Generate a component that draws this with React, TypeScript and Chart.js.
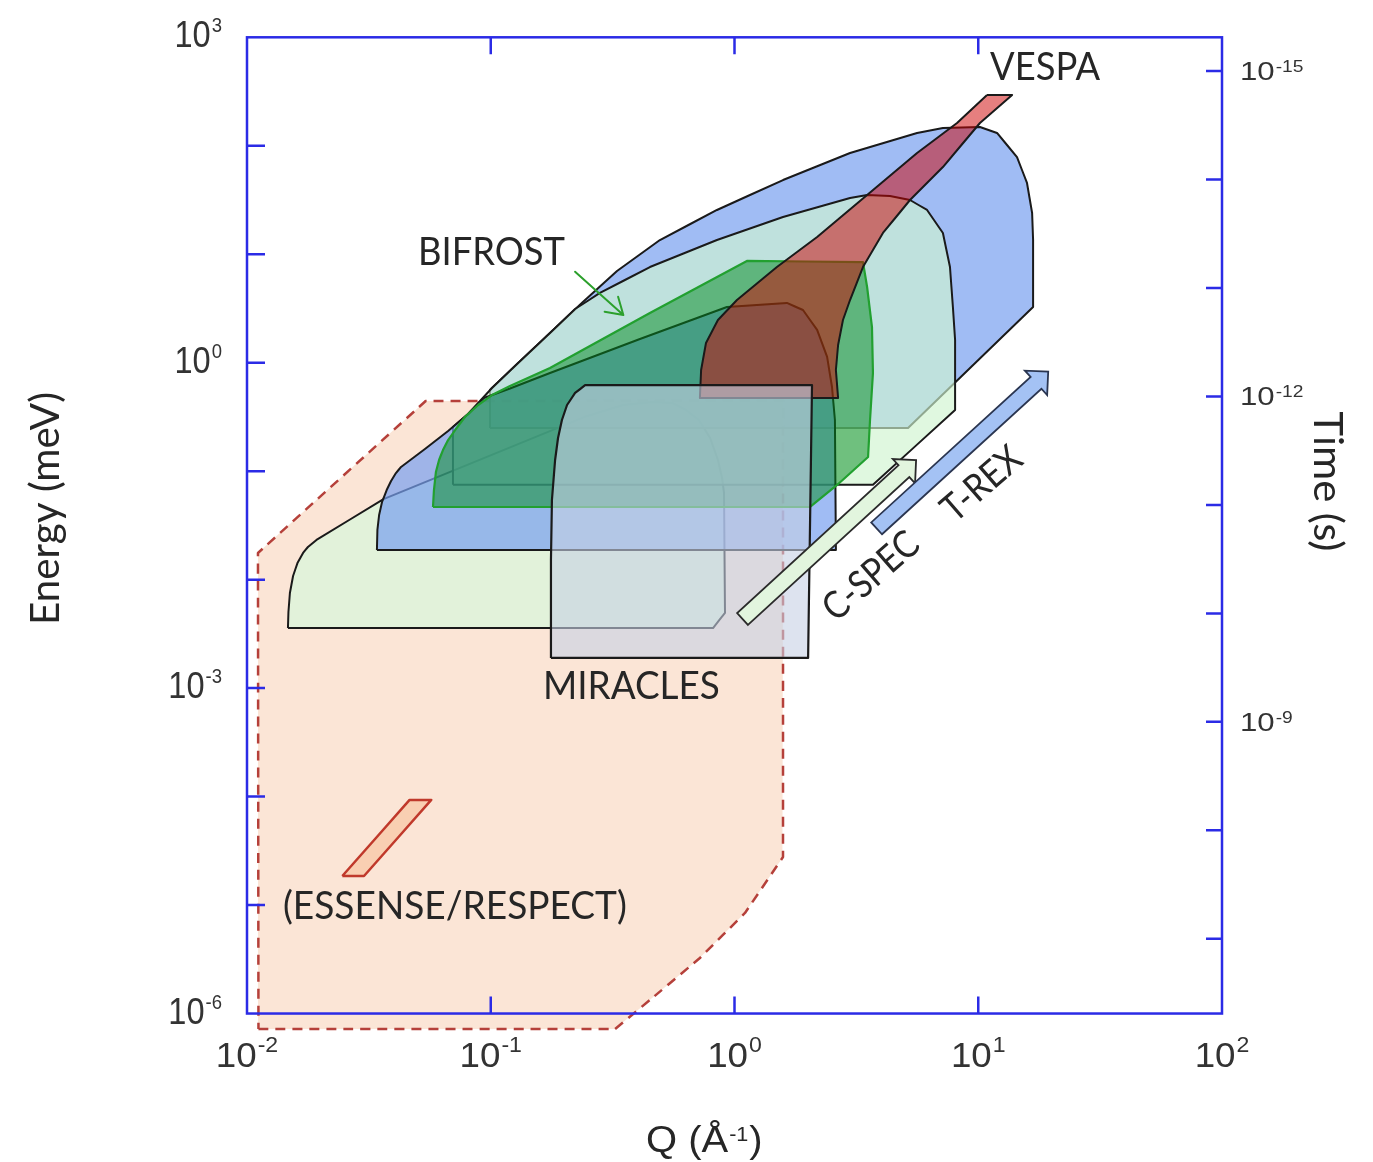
import React, { useEffect, useRef } from "react";
import { Chart, registerables } from "chart.js";

Chart.register(...registerables);

type P = [number, number];

// ---- Data: every vertex is [log10 Q (Å^-1), log10 E (meV)] ----
const essenseRange: P[] = [
  [-1.953, -6.143], [-0.49, -6.143], [-0.347, -5.875], [-0.142, -5.488], [0.043, -5.073],
  [0.199, -4.557], [0.199, -0.353], [-1.267, -0.353], [-1.955, -1.754],
];
const essenseBox: P[] = [[-1.609, -4.732], [-1.52, -4.732], [-1.244, -4.031], [-1.333, -4.031]];
const cspecLow: P[] = [
  [-1.832, -2.446], [-1.83, -2.298], [-1.824, -2.123], [-1.811, -1.966], [-1.793, -1.847],
  [-1.77, -1.754], [-1.75, -1.699], [-1.715, -1.634], [-1.44, -1.257], [-0.617, -0.501],
  [-0.457, -0.39], [-0.334, -0.362], [-0.256, -0.371], [-0.199, -0.436], [-0.146, -0.528],
  [-0.1, -0.694], [-0.068, -0.897], [-0.051, -1.063], [-0.043, -1.201], [-0.039, -2.307],
  [-0.088, -2.446],
];
const trexHigh: P[] = [
  [-1.003, -0.602], [-1.003, -0.252], [-0.995, -0.233], [-0.892, -0.012], [-0.757, 0.274],
  [-0.622, 0.56], [-0.482, 0.846], [-0.306, 1.131], [-0.072, 1.408], [0.199, 1.684],
  [0.474, 1.933], [0.749, 2.118], [0.855, 2.164], [1.007, 2.173], [1.077, 2.118],
  [1.159, 1.896], [1.2, 1.657], [1.221, 1.38], [1.225, 1.131], [1.225, 0.514], [0.712, -0.602],
];
const cspecHigh: P[] = [
  [-1.155, -1.125], [-1.155, -0.593], [-1.093, -0.473], [-0.995, -0.233], [-0.892, -0.012],
  [-0.757, 0.274], [-0.654, 0.495], [-0.552, 0.643], [-0.347, 0.882], [-0.072, 1.131],
  [0.199, 1.343], [0.474, 1.518], [0.544, 1.546], [0.638, 1.537], [0.72, 1.5], [0.79, 1.408],
  [0.855, 1.196], [0.884, 0.882], [0.896, 0.514], [0.905, 0.209], [0.905, -0.436], [0.568, -1.125],
];
const trexLow: P[] = [
  [-1.467, -1.727], [-1.465, -1.542], [-1.458, -1.404], [-1.446, -1.284], [-1.427, -1.174],
  [-1.409, -1.091], [-1.389, -1.017], [-1.368, -0.961], [-1.27, -0.796], [-1.175, -0.63],
  [-1.093, -0.473], [-1.028, -0.325], [-0.921, -0.238], [-0.757, -0.095], [-0.388, 0.219],
  [-0.031, 0.514], [0.215, 0.551], [0.281, 0.486], [0.339, 0.302], [0.38, 0.053],
  [0.4, -0.224], [0.412, -0.528], [0.416, -1.727],
];
const bifrost: P[] = [
  [-1.237, -1.33], [-1.233, -1.174], [-1.225, -1.008], [-1.212, -0.897], [-1.196, -0.805],
  [-1.175, -0.713], [-1.143, -0.611], [-1.106, -0.501], [-1.052, -0.39], [-0.995, -0.298],
  [-0.921, -0.215], [-0.839, -0.132], [-0.757, -0.049], [-0.347, 0.458], [0.051, 0.938],
  [0.527, 0.928], [0.544, 0.698], [0.564, 0.329], [0.568, -0.095], [0.556, -0.528],
  [0.548, -0.869], [0.421, -1.127], [0.31, -1.33],
];
const vespa: P[] = [
  [1.036, 2.468], [0.913, 2.21], [0.749, 1.933], [0.544, 1.546], [0.339, 1.159], [0.174, 0.882],
  [0.01, 0.578], [-0.068, 0.394], [-0.117, 0.182], [-0.137, -0.067], [-0.142, -0.325],
  [0.425, -0.325], [0.416, -0.067], [0.425, 0.163], [0.445, 0.394], [0.474, 0.578],
  [0.527, 0.882], [0.609, 1.196], [0.72, 1.5], [0.855, 1.804], [1.007, 2.21], [1.139, 2.468],
];
const miracles: P[] = [
  [-0.753, -2.722], [-0.753, -1.819], [-0.749, -1.266], [-0.736, -0.897], [-0.724, -0.694],
  [-0.708, -0.528], [-0.687, -0.39], [-0.654, -0.279], [-0.613, -0.206], [0.318, -0.206],
  [0.302, -2.722],
];
// arrows: [tail, tip] as [log10 Q, log10 E]
const cspecArrow: P[] = [[0.033, -2.363], [0.745, -0.897]];
const trexArrow: P[] = [[0.583, -1.527], [1.287, -0.083]];
const bifrostPointer: P[] = [[-0.654, 0.839], [-0.456, 0.44]];

// axes (decade exponents)
const qDecades = [-2, -1, 0, 1, 2];
const energyDecades = [-6, -5, -4, -3, -2, -1, 0, 1, 2, 3];
const energyLabelled = [-6, -3, 0, 3];
const timeDecades = [-15, -14, -13, -12, -11, -10, -9, -8, -7];
const timeLabelled = [-15, -12, -9];

const instrumentLabels = [
  { text: "VESPA", at: [1.274, 2.731], width: 110, angle: 0 },
  { text: "BIFROST", at: [-0.997, 1.025], width: 147, angle: 0 },
  { text: "MIRACLES", at: [-0.423, -2.976], width: 177, angle: 0 },
  { text: "(ESSENSE/RESPECT)", at: [-1.147, -5.004], width: 344, angle: 0 },
  { text: "C-SPEC", at: [0.556, -1.957], width: 114, angle: -41 },
  { text: "T-REX", at: [1.011, -1.109], width: 93, angle: -41 },
];

const AXIS = "#2b2be6";
const TXT = "#262626";
const TICKTXT = "#333333";
const SANS = '"Liberation Sans", Arial, sans-serif';
const LABEL = 'Lato, "Open Sans", sans-serif';

function poly(pts: P[]) {
  const out = pts.map(([q, e]) => ({ x: 10 ** q, y: 10 ** e }));
  out.push({ ...out[0] });
  return out;
}

function fitText(ctx: any, text: string, x: number, y: number, width: number, size: number, family: string, color: string, angleDeg = 0) {
  ctx.save();
  ctx.font = `${size}px ${family}`;
  const m = ctx.measureText(text).width;
  ctx.translate(x, y);
  ctx.rotate((angleDeg * Math.PI) / 180);
  ctx.scale(width / m, 1);
  ctx.fillStyle = color;
  ctx.textAlign = "center";
  ctx.textBaseline = "alphabetic";
  ctx.fillText(text, 0, size * 0.36);
  ctx.restore();
}

function drawPow(ctx: any, exp: string, x: number, baseline: number, o: any) {
  const baseFont = `${o.base}px ${SANS}`;
  const supFont = `${o.sup}px ${SANS}`;
  ctx.save();
  ctx.fillStyle = TICKTXT;
  ctx.textAlign = "left";
  ctx.textBaseline = "alphabetic";
  ctx.font = baseFont;
  const w1 = ctx.measureText("10").width * o.sx;
  ctx.font = supFont;
  const w2 = ctx.measureText(exp).width * o.sx;
  const total = w1 + 1 + w2;
  const x0 = o.align === "left" ? x : o.align === "right" ? x - total : x - total / 2;
  ctx.save();
  ctx.translate(x0, baseline);
  ctx.scale(o.sx, 1);
  ctx.font = baseFont;
  ctx.fillText("10", 0, 0);
  ctx.restore();
  ctx.save();
  ctx.translate(x0 + w1 + 1, baseline - o.raise);
  ctx.scale(o.sx, 1);
  ctx.font = supFont;
  ctx.fillText(exp, 0, 0);
  ctx.restore();
  ctx.restore();
}

function blockArrow(ctx: any, x0: number, y0: number, x1: number, y1: number, fill: string, stroke: string) {
  const dx = x1 - x0, dy = y1 - y0, len = Math.hypot(dx, dy);
  const ux = dx / len, uy = dy / len, nx = -uy, ny = ux;
  const w = 8, hw = 16.5, hl = 16.5;
  const bx = x1 - ux * hl, by = y1 - uy * hl;
  const pts = [
    [x0 + nx * w, y0 + ny * w], [bx + nx * w, by + ny * w], [bx + nx * hw, by + ny * hw], [x1, y1],
    [bx - nx * hw, by - ny * hw], [bx - nx * w, by - ny * w], [x0 - nx * w, y0 - ny * w],
  ];
  ctx.save();
  ctx.beginPath();
  pts.forEach(([px, py], i) => (i ? ctx.lineTo(px, py) : ctx.moveTo(px, py)));
  ctx.closePath();
  ctx.fillStyle = fill;
  ctx.fill();
  ctx.lineWidth = 1.8;
  ctx.strokeStyle = stroke;
  ctx.lineJoin = "miter";
  ctx.stroke();
  ctx.restore();
}

function pointer(ctx: any, x0: number, y0: number, x1: number, y1: number, color: string) {
  const a = Math.atan2(y1 - y0, x1 - x0);
  ctx.save();
  ctx.strokeStyle = color;
  ctx.lineWidth = 2;
  ctx.lineCap = "round";
  ctx.beginPath();
  ctx.moveTo(x0, y0);
  ctx.lineTo(x1, y1);
  for (const s of [-1, 1]) {
    const b = a + Math.PI + s * 0.56;
    ctx.moveTo(x1, y1);
    ctx.lineTo(x1 + 19 * Math.cos(b), y1 + 19 * Math.sin(b));
  }
  ctx.stroke();
  ctx.restore();
}

const overlay = {
  id: "overlay",
  afterDatasetsDraw(chart: any) {
    const ctx = chart.ctx;
    const sx = chart.scales.x, sy = chart.scales.y, st = chart.scales.y2;
    const X = (v: number) => sx.getPixelForValue(10 ** v);
    const Y = (v: number) => sy.getPixelForValue(10 ** v);
    const T = (v: number) => st.getPixelForValue(10 ** v);

    blockArrow(ctx, X(cspecArrow[0][0]), Y(cspecArrow[0][1]), X(cspecArrow[1][0]), Y(cspecArrow[1][1]), "#e2f5de", "#2a2a2a");
    blockArrow(ctx, X(trexArrow[0][0]), Y(trexArrow[0][1]), X(trexArrow[1][0]), Y(trexArrow[1][1]), "#a4c2f4", "#2a3550");
    pointer(ctx, X(bifrostPointer[0][0]), Y(bifrostPointer[0][1]), X(bifrostPointer[1][0]), Y(bifrostPointer[1][1]), "#2ca02c");

    for (const lab of instrumentLabels) {
      fitText(ctx, lab.text, X(lab.at[0]), Y(lab.at[1]), lab.width, 38, LABEL, TXT, lab.angle);
    }

    // frame
    const L = X(-2), R = X(2), TOP = Y(3), B = Y(-6);
    ctx.save();
    ctx.strokeStyle = AXIS;
    ctx.lineWidth = 2.5;
    ctx.strokeRect(L, TOP, R - L, B - TOP);
    ctx.beginPath();
    for (const e of energyDecades) {
      if (e <= -6 || e >= 3) continue;
      ctx.moveTo(L, Y(e));
      ctx.lineTo(L + 18, Y(e));
    }
    for (const q of qDecades) {
      if (q <= -2 || q >= 2) continue;
      ctx.moveTo(X(q), B);
      ctx.lineTo(X(q), B - 17);
      ctx.moveTo(X(q), TOP);
      ctx.lineTo(X(q), TOP + 17);
    }
    for (const t of timeDecades) {
      ctx.moveTo(R, T(t));
      ctx.lineTo(R - 16, T(t));
    }
    ctx.stroke();
    ctx.restore();

    // tick labels
    for (const q of qDecades) drawPow(ctx, String(q), X(q), B + 53.5, { base: 35, sup: 22, sx: 1.05, raise: 15, align: "center" });
    for (const e of energyLabelled) drawPow(ctx, String(e), L - 25, Y(e) + 10, { base: 37, sup: 21, sx: 0.88, raise: 15, align: "right" });
    for (const t of timeLabelled) drawPow(ctx, String(t), R + 18, T(t) + 9, { base: 26, sup: 16, sx: 1.2, raise: 8, align: "left" });

    // axis titles
    fitText(ctx, "Energy (meV)", 44.5, (Y(0) + Y(-3)) / 2 - 17, 233, 41, LABEL, TXT, -90);
    fitText(ctx, "Time (s)", 1329, T(-12) + 85, 140, 41, LABEL, TXT, 90);

    // Q (Å^-1)
    ctx.save();
    ctx.fillStyle = TXT;
    ctx.textBaseline = "alphabetic";
    ctx.textAlign = "left";
    const qb = B + 138.5;
    let qx = 646;
    const parts = [
      { t: "Q (Å", size: 37, dy: 0 },
      { t: "-1", size: 20, dy: -11 },
      { t: ")", size: 37, dy: 0 },
    ];
    for (const p of parts) {
      ctx.font = `${p.size}px ${SANS}`;
      const w = ctx.measureText(p.t).width * 1.08;
      ctx.save();
      ctx.translate(qx, qb + p.dy);
      ctx.scale(1.08, 1);
      ctx.fillText(p.t, 0, 0);
      ctx.restore();
      qx += w + 1;
    }
    ctx.restore();
  },
};

const layers = [
  { label: "ESSENSE/RESPECT range", pts: essenseRange, fill: "#fbe5d6", line: "#b5403a", width: 2.5, dash: [10, 7] },
  { label: "ESSENSE/RESPECT", pts: essenseBox, fill: "#f9cfb2", line: "#c0392b", width: 2.5, dash: [] },
  { label: "C-SPEC (low Ei)", pts: cspecLow, fill: "#e2f2da", line: "#1a1a1a", width: 2, dash: [] },
  { label: "T-REX (high Ei)", pts: trexHigh, fill: "rgba(120,160,240,0.7)", line: "#1a1a1a", width: 2, dash: [] },
  { label: "C-SPEC (high Ei)", pts: cspecHigh, fill: "rgba(208,244,208,0.65)", line: "#1a1a1a", width: 2, dash: [] },
  { label: "T-REX (low Ei)", pts: trexLow, fill: "rgba(120,160,240,0.7)", line: "#1a1a1a", width: 2, dash: [] },
  { label: "BIFROST", pts: bifrost, fill: "rgba(0,138,30,0.5)", line: "#22a030", width: 2.2, dash: [] },
  { label: "VESPA", pts: vespa, fill: "rgba(205,0,0,0.5)", line: "#1a1a1a", width: 2, dash: [] },
  { label: "MIRACLES", pts: miracles, fill: "rgba(198,208,228,0.6)", line: "#1a1a1a", width: 2.2, dash: [] },
];

export default function App() {
  const ref = useRef<HTMLCanvasElement>(null);
  useEffect(() => {
    const canvas = ref.current!;
    const datasets = layers.map((l, i) => ({
      label: l.label,
      data: poly(l.pts),
      showLine: true,
      fill: "shape",
      indexAxis: "y",
      xAxisID: "x",
      yAxisID: "y",
      backgroundColor: l.fill,
      borderColor: l.line,
      borderWidth: l.width,
      borderDash: l.dash,
      borderJoinStyle: "round",
      pointRadius: 0,
      pointHoverRadius: 0,
      pointHitRadius: 0,
      tension: 0.0001,
      order: layers.length - i,
    }));
    const chart = new Chart(canvas, {
      type: "scatter",
      data: { datasets } as any,
      options: {
        animation: false,
        responsive: false,
        devicePixelRatio: 1,
        events: [],
        layout: { padding: { left: 247, right: 151, top: 37.3, bottom: 115.93 } },
        plugins: { legend: { display: false }, tooltip: { enabled: false } },
        scales: {
          x: { type: "logarithmic", min: 0.01, max: 100, display: false },
          y: { type: "logarithmic", min: 10 ** -6.3, max: 1000, display: false },
          y2: { type: "logarithmic", position: "right", min: 10 ** -15.311, max: 10 ** -6.011, reverse: true, display: false },
        },
      } as any,
      plugins: [overlay],
    });
    return () => chart.destroy();
  }, []);
  return (
    <div style={{ position: "absolute", left: 0, top: 0, width: 1373, height: 1162, background: "#fff" }}>
      <canvas ref={ref} width={1373} height={1162} style={{ display: "block" }} />
    </div>
  );
}
